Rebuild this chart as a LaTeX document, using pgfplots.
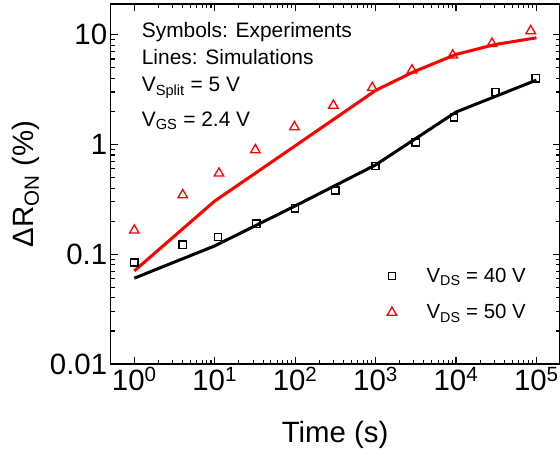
\documentclass[border=0pt]{standalone}
\usepackage{fontspec}
\setmainfont{Liberation Sans}
\usepackage{pgfplots}
\pgfplotsset{compat=1.18}
\begin{document}
\begin{tikzpicture}
\useasboundingbox (-110.7bp,-90bp) rectangle (449.3bp,364bp);
\begin{axis}[
  scale only axis, width=448.8bp, height=360bp,
  xmode=log, ymode=log,
  xmin=0.509, xmax=1.94e5, ymin=0.01, ymax=19,
  axis line style={line width=1.5bp},
  tick align=inside,
  major tick length=7bp, minor tick length=4bp,
  every tick/.style={black, line width=1.1bp},
  xtick={1,10,100,1000,10000,100000},
  xticklabels={10\textsuperscript{0},10\textsuperscript{1},10\textsuperscript{2},10\textsuperscript{3},10\textsuperscript{4},10\textsuperscript{5}},
  ytick={0.01,0.1,1,10},
  yticklabels={0.01,0.1,1,10},
  tick label style={font=\fontsize{29.5}{33}\selectfont},
  xlabel={Time (s)},
  ylabel={ΔR\textsubscript{ON} (\%)},
  label style={font=\fontsize{29.5}{33}\selectfont},
  xlabel style={at={(axis description cs:0.5,-0.219)}, anchor=base},
  ylabel style={at={(axis description cs:-0.173,0.5)}, anchor=base},
  legend style={draw=none, fill=none, font=\fontsize{20.5}{24}\selectfont,
    at={(axis description cs:0.6025,0.273)}, anchor=north west, row sep=17bp,
    inner sep=0pt},
  legend cell align=left,
  legend image code/.code={\path (0bp,0bp) (42bp,0bp); \draw[#1] plot coordinates {(10bp,0bp)};},
]
\addplot[only marks, mark=square, mark size=3.6bp, line width=1.3bp, black]
 coordinates {(1,0.084) (4,0.122) (11,0.144) (33,0.19) (100,0.262) (316,0.38) (1000,0.635) (3160,1.04) (9500,1.76) (31000,2.99) (98000,4.0)};
\addlegendentry{V\textsubscript{DS} = 40 V}
\addplot[only marks, mark=triangle, mark size=5.5bp, line width=1.3bp, red]
 coordinates {(1,0.165) (4,0.346) (11.3,0.545) (32,0.89) (98,1.44) (299,2.26) (910,3.28) (2840,4.74) (9100,6.48) (28000,8.28) (85000,10.8)};
\addlegendentry{V\textsubscript{DS} = 50 V}
\addplot[forget plot, black, line width=3bp] coordinates {(1,0.0605) (10,0.119) (100,0.275) (1000,0.65) (10000,1.97) (100000,3.85)};
\addplot[forget plot, red, line width=3bp] coordinates {(1,0.0705) (10,0.305) (100,0.97) (1000,3.1) (3000,4.6) (10000,6.6) (30000,8.1) (100000,9.35)};
\node[anchor=base west, font=\fontsize{21}{25}\selectfont, inner sep=0pt] at (rel axis cs:0.069,0.906) {Symbols: Experiments};
\node[anchor=base west, font=\fontsize{21}{25}\selectfont, inner sep=0pt] at (rel axis cs:0.069,0.833) {Lines: Simulations};
\node[anchor=base west, font=\fontsize{21}{25}\selectfont, inner sep=0pt] at (rel axis cs:0.069,0.756) {V\textsubscript{Split} = 5 V};
\node[anchor=base west, font=\fontsize{21}{25}\selectfont, inner sep=0pt] at (rel axis cs:0.069,0.661) {V\textsubscript{GS} = 2.4 V};
\end{axis}
\end{tikzpicture}
\end{document}
